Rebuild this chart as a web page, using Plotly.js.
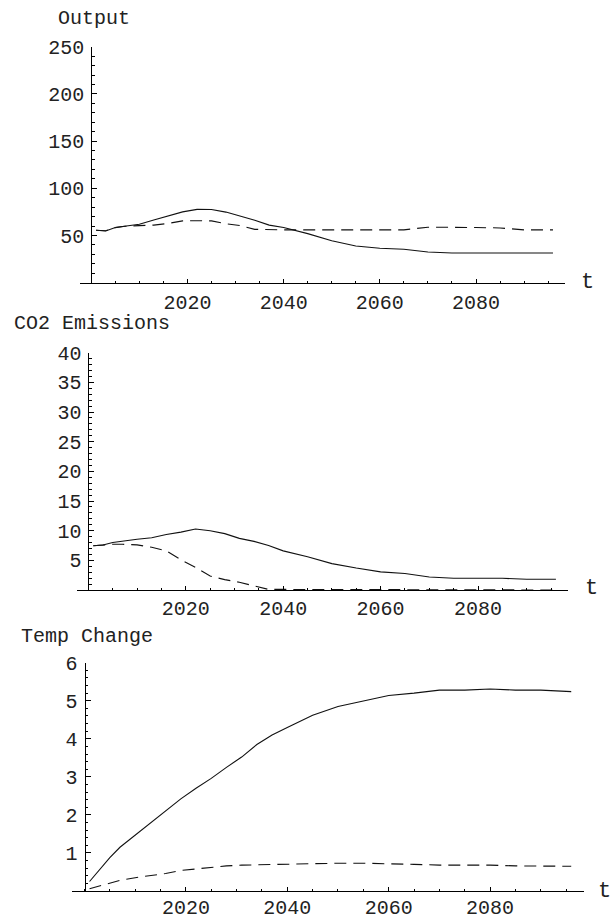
<!DOCTYPE html>
<html>
<head>
<meta charset="utf-8">
<script src="https://cdn.plot.ly/plotly-3.0.1.min.js"></script>
<style>html,body{margin:0;padding:0;background:#fff;}#chart{width:613px;height:919px;}</style>
</head>
<body>
<div id="chart"></div>
<script>
// ---- data ----
const years = [2001,2003,2005,2007,2010,2013,2016,2019,2022,2025,2028,2031,2034,2037,2040,2045,2050,2055,2060,2065,2070,2075,2080,2085,2090,2096];

const outputSolid  = [55.5,54.8,58.5,59.8,62,66.5,71,75,77.7,77.5,74.8,70.5,66.2,61,58.5,52,44.5,38.8,36.5,35.5,32.5,31.4,31.4,31.4,31.4,31.4];
const outputDashed = [55.5,55,58.3,59.8,60.5,61,62.8,65.5,65.7,65.5,62.5,60.5,56.5,56,56,56,56,56,56,56,58.8,58.8,58.5,58,56,56];

const co2Solid  = [7.47,7.58,8.0,8.25,8.55,8.8,9.35,9.75,10.28,10.0,9.5,8.7,8.2,7.5,6.6,5.6,4.45,3.7,3.05,2.77,2.2,1.97,1.97,1.97,1.8,1.8];
const co2Dashed = [7.47,7.6,7.7,7.7,7.6,7.2,6.6,5.1,3.8,2.35,1.75,1.3,0.65,0.1,0.1,0.1,0.1,0.1,0,0,0,0,0,0,0,0];

const tempSolid  = [0.25,0.58,0.88,1.15,1.47,1.8,2.11,2.42,2.7,2.96,3.25,3.52,3.85,4.1,4.3,4.62,4.85,5.0,5.14,5.2,5.28,5.28,5.31,5.28,5.28,5.24];
const tempDashed = [0.06,0.13,0.22,0.28,0.35,0.4,0.46,0.54,0.58,0.63,0.66,0.68,0.69,0.7,0.71,0.73,0.73,0.73,0.72,0.7,0.68,0.68,0.68,0.66,0.65,0.65];

const titles = ["Output", "CO2 Emissions", "Temp Change"];
const xTickVals = [2020, 2040, 2060, 2080];
const xTickText = ["2020", "2040", "2060", "2080"];
const y1TickVals = [50, 100, 150, 200, 250];
const y2TickVals = [5, 10, 15, 20, 25, 30, 35, 40];
const y3TickVals = [1, 2, 3, 4, 5, 6];
const xLabel = "t";

// ---- layout geometry (pixels) ----
const W = 613, H = 919;
const FONT = "Liberation Mono, Courier New, monospace";
const TXT = "#222";
const panels = [
  {l: 79.7, r: 565.0, b: 282.7, t: 46.7, ax: 91.2, yr: [0, 250], yt: y1TickVals, ym: 10, xso: 1, title: {x: 56, y: 19}, tl: {x: 587, y: 282}},
  {l: 76.7, r: 568.1, b: 590.0, t: 352.7, ax: 88.4, yr: [0, 40], yt: y2TickVals, ym: 1, xso: 0, title: {x: 11.7, y: 323.5}, tl: {x: 591, y: 588}},
  {l: 72.3, r: 583.9, b: 891.0, t: 662.7, ax: 84.5, yr: [0, 6], yt: y3TickVals, ym: 0.2, xso: -2, title: {x: 19.3, y: 636}, tl: {x: 604, y: 891}}
];
const xRange = [1997.6, 2098.5];

const seriesSets = [[outputSolid, outputDashed], [co2Solid, co2Dashed], [tempSolid, tempDashed]];

const traces = [];
const layout = {
  width: W, height: H,
  margin: {l: 0, r: 0, t: 0, b: 0, pad: 0},
  paper_bgcolor: "#fff", plot_bgcolor: "#fff",
  showlegend: false,
  font: {family: FONT, size: 20, color: TXT},
  annotations: []
};

panels.forEach((p, i) => {
  const n = i === 0 ? "" : String(i + 1);
  const xa = "x" + n, ya = "y" + n;
  const [solid, dashed] = seriesSets[i];
  traces.push({x: years, y: solid, xaxis: xa, yaxis: ya, type: "scatter", mode: "lines",
    line: {color: "#111", width: 1.1}, hoverinfo: "skip"});
  traces.push({x: years, y: dashed, xaxis: xa, yaxis: ya, type: "scatter", mode: "lines",
    line: {color: "#111", width: 1.1, dash: "12px,7px"}, hoverinfo: "skip"});

  layout["xaxis" + n] = {
    domain: [p.l / W, p.r / W], range: xRange, anchor: ya,
    showline: true, linecolor: "#000", linewidth: 1, mirror: false,
    showgrid: false, zeroline: false,
    ticks: "inside", ticklen: 4, tickwidth: 1, tickcolor: "#000",
    tickmode: "array", tickvals: xTickVals, ticktext: xTickText,
    tickfont: {family: FONT, size: 20, color: TXT},
    ticklabelstandoff: p.xso,
    minor: {tickmode: "linear", tick0: 2000, dtick: 5, ticks: "inside", ticklen: 2, tickcolor: "#000", showgrid: false},
    fixedrange: true
  };
  layout["yaxis" + n] = {
    domain: [1 - p.b / H, 1 - p.t / H], range: p.yr, anchor: "free", position: p.ax / W,
    showline: true, linecolor: "#000", linewidth: 1,
    showgrid: false, zeroline: false,
    ticks: "inside", ticklen: 5, tickwidth: 1, tickcolor: "#000",
    tickmode: "array", tickvals: p.yt, ticktext: p.yt.map(String),
    tickfont: {family: FONT, size: 20, color: TXT},
    ticklabelstandoff: 3,
    minor: {tickmode: "linear", tick0: 0, dtick: p.ym, ticks: "inside", ticklen: 2.5, tickcolor: "#000", showgrid: false},
    fixedrange: true
  };
  layout.annotations.push({
    text: titles[i], xref: "paper", yref: "paper",
    x: p.title.x / W, y: 1 - p.title.y / H, xanchor: "left", yanchor: "middle",
    showarrow: false, font: {family: FONT, size: 20, color: TXT}
  });
  layout.annotations.push({
    text: xLabel, xref: "paper", yref: "paper",
    x: p.tl.x / W, y: 1 - p.tl.y / H, xanchor: "center", yanchor: "middle",
    showarrow: false, font: {family: FONT, size: 22, color: TXT}
  });
});

Plotly.newPlot("chart", traces, layout, {staticPlot: true, displayModeBar: false});
</script>
</body>
</html>
